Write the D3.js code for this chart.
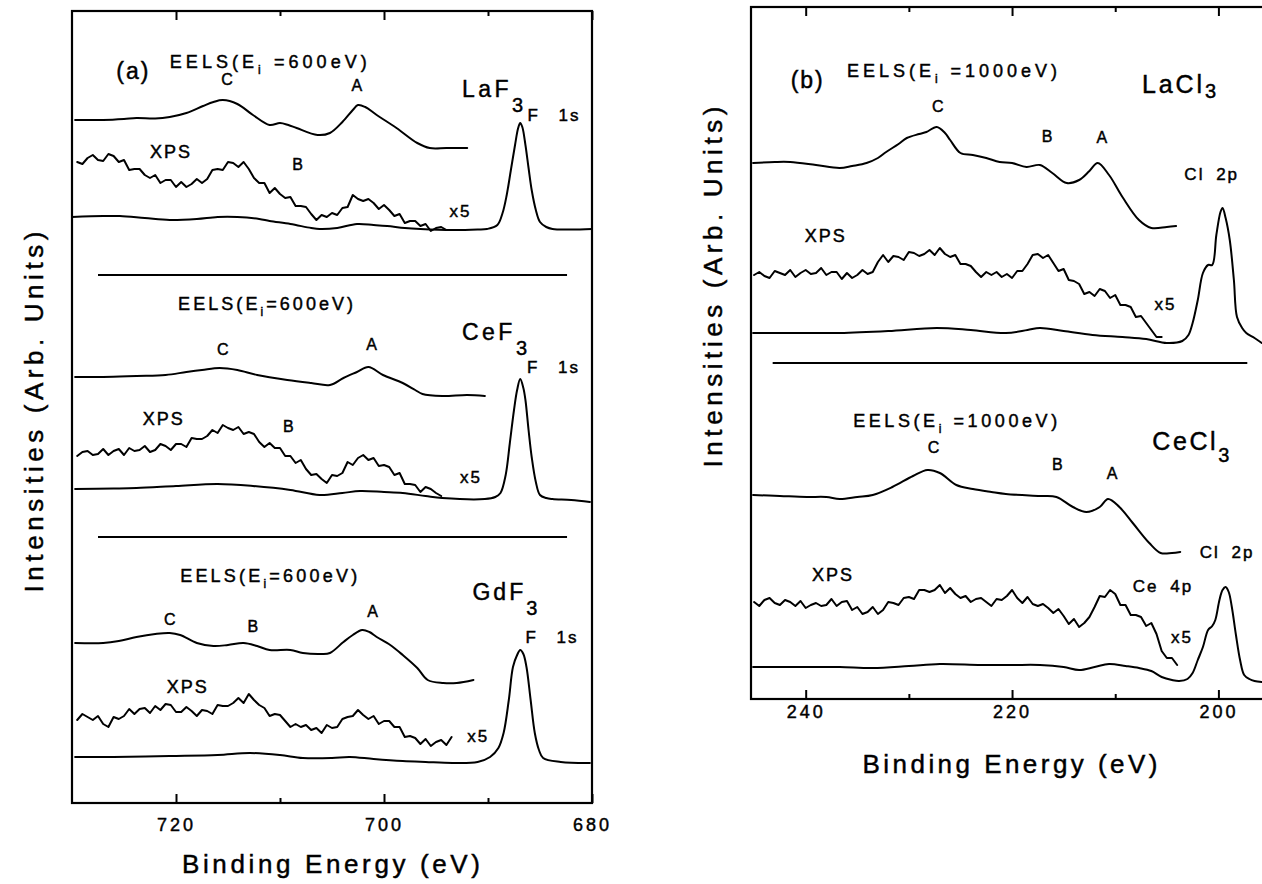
<!DOCTYPE html>
<html>
<head>
<meta charset="utf-8">
<script src="https://cdn.jsdelivr.net/npm/d3@7"></script>
<style>
  html, body { margin: 0; padding: 0; background: #fff; }
  svg { display: block; font-family: "Liberation Sans", Arial, Helvetica, sans-serif; }
  text { white-space: pre; fill: #000; stroke: #000; stroke-width: 0.45px; }
</style>
</head>
<body>
<svg id="chart" width="1262" height="884"></svg>
<script>
// ---------------- axis ticks ----------------
const ticksA = [720, 700, 680];
const minorTicksA = [710, 690];
const ticksB = [240, 220, 200];
const minorTicksB = [230, 210];

// ---------------- (a) fluorides: [binding energy (eV), intensity (arb.)] ----------------
const laf3Eels = [[729.7,68.3],[727,68.3],[725,68.4],[723.8,68.5],[722,68.45],[720.6,68.6],[719,69.0],[717.4,69.7],[716.4,70.1],[715.5,70.3],[714.1,69.9],[712.6,68.8],[711,67.8],[710,68.0],[709.2,67.8],[708.4,67.5],[706.4,66.8],[705.2,67.0],[704,68.1],[703,69.3],[702.5,69.8],[701.8,69.6],[700.7,68.8],[698.8,67.5],[696.8,66.0],[695.6,65.5],[694,65.5],[692,65.5]];
const laf3XpsStart = 729.5;
const laf3Xps = [64.1,63.9,64.5,64.8,64.3,64.2,64.9,64.7,64.1,64.3,63.3,63.4,63.4,62.8,62.5,62.8,62.0,62.3,62.3,61.6,62.1,61.6,61.9,62.4,62.0,62.4,63.3,63.4,63.3,64.1,64.0,63.6,64.1,63.4,62.5,62.0,62.0,61.0,61.5,60.9,60.5,60.6,59.7,59.7,59.6,58.9,58.3,58.8,58.6,59.0,58.8,59.5,59.6,60.8,60.4,60.2,60.4,60.0,59.4,59.8,59.3,58.7,58.9,58.0,58.2,58.2,57.7,57.9,57.2,57.5,57.6,57.3];
const laf3Core = [[730,58.6],[727,58.7],[725.4,58.7],[723,58.5],[720.6,58.3],[718,58.4],[716,58.6],[714.1,58.6],[712,58.4],[711,58.2],[709,57.9],[707,57.5],[706.2,57.4],[704.5,57.5],[702.6,57.9],[701,57.8],[699.7,57.7],[698,57.5],[696.5,57.4],[693.4,57.3],[691,57.35],[690.1,57.4],[689.1,57.8],[688.6,59.0],[688.2,60.8],[687.8,63.3],[687.4,65.8],[687.1,67.5],[686.9,68.0],[686.7,67.6],[686.4,65.8],[686.1,63.5],[685.8,61.3],[685.4,59.3],[685,58.1],[684.4,57.6],[683.8,57.4],[682,57.35],[680,57.4]];

const cef3Eels = [[729.7,42.6],[727,42.6],[723.8,42.7],[721,42.8],[719,43.1],[717.5,43.3],[715.8,43.5],[714.1,43.3],[712.2,42.8],[709.3,42.3],[707,42.0],[705.2,41.8],[703.9,42.5],[702.6,43.1],[701.5,43.6],[700.1,42.8],[698.2,42.0],[697,41.3],[696.3,40.9],[694.4,40.7],[692,40.8],[690.3,40.7]];
const cef3XpsStart = 729.5;
const cef3Xps = [34.7,35.1,35.2,34.8,34.9,35.4,34.8,35.2,35.4,34.8,35.5,35.2,35.3,35.7,35.1,35.3,35.9,35.7,35.3,35.9,35.9,35.6,36.5,36.4,36.4,36.7,37.3,37.0,37.8,37.5,37.3,37.6,36.9,37.1,36.9,36.1,35.6,36.0,35.5,35.5,34.7,34.7,34.0,34.3,33.4,32.8,32.9,32.4,32.0,32.8,32.7,33.0,34.1,33.8,34.5,34.8,34.3,34.5,33.7,33.8,33.6,32.8,33.0,31.9,31.9,31.8,31.1,31.6,31.4,31.0,30.7];
const cef3Core = [[729.7,31.4],[726,31.45],[723.8,31.5],[720,31.7],[716,31.9],[712.6,31.7],[709,31.3],[706.2,30.8],[704,31.0],[702.3,31.2],[700,31.1],[698.2,31.0],[696,30.7],[694.4,30.5],[690.3,30.4],[689.3,30.6],[688.8,31.0],[688.3,32.8],[687.9,36.0],[687.5,39.3],[687.2,41.3],[686.9,42.4],[686.6,41.5],[686.4,40.3],[686.1,37.3],[685.8,34.6],[685.4,32.1],[685,30.8],[684.4,30.5],[683.8,30.4],[682,30.3],[680.2,30.1]];

const gdf3Eels = [[729.7,16.0],[727,16.0],[725.5,16.2],[723.8,16.6],[722,16.9],[720.6,17.0],[719.6,16.8],[718,16.0],[716.4,15.7],[715,15.8],[713.5,16.0],[712.2,15.7],[711,15.3],[709,15.3],[707.8,15.0],[706,14.9],[705.2,15.0],[703.9,16.1],[703,16.8],[702.1,17.3],[701.4,17.1],[700.7,16.6],[699.4,15.8],[698.2,14.8],[696.8,13.5],[695.8,12.3],[694.3,12.0],[693,12.0],[691.4,12.3]];
const gdf3XpsStart = 729.5;
const gdf3Xps = [8.3,8.9,8.6,8.3,8.7,7.9,7.6,8.6,8.4,8.7,9.4,8.9,9.4,9.5,9.0,9.7,9.3,9.9,9.8,9.1,9.1,9.6,9.2,8.7,9.3,9.2,8.9,9.8,9.7,9.7,10.0,10.5,10.0,10.9,10.3,9.8,9.5,8.7,8.9,8.8,8.2,7.6,7.9,7.6,7.8,7.3,7.5,7.0,7.8,7.5,7.6,8.4,8.6,8.7,9.3,8.8,8.4,8.7,7.9,8.2,8.2,7.6,7.6,6.6,6.7,6.5,5.9,6.4,5.7,6.1,6.3,5.8,6.6];
const gdf3Core = [[729.7,4.6],[726,4.6],[720.6,4.7],[716,4.8],[712.9,5.0],[710,4.8],[707.8,4.5],[705,4.5],[703.3,4.6],[701,4.4],[698.2,4.2],[696,4.1],[693.4,4.0],[691,4.1],[689.8,4.6],[689,5.5],[688.5,7.0],[688,10.3],[687.6,13.6],[687.2,14.8],[686.9,15.3],[686.6,14.9],[686.3,13.6],[685.9,10.3],[685.5,7.0],[685.1,5.3],[684.7,4.5],[683,4.1],[680.2,4.0]];

// ---------------- (b) chlorides ----------------
const lacl3Eels = [[245.1,53.6],[243,53.7],[241.5,53.7],[239,53.4],[236.7,53.1],[235.5,53.3],[234.1,53.6],[233,54.1],[232.2,54.7],[231,55.5],[230.2,56.1],[229,56.5],[228.3,56.7],[227.3,57.2],[226.5,56.6],[226,55.9],[225,54.6],[223.8,54.4],[222.5,54.1],[221.2,53.7],[220,53.6],[218.6,53.2],[217.3,53.4],[216.1,52.6],[214.7,51.6],[213.5,51.9],[212.5,52.8],[211.7,53.6],[210.6,52.4],[209.3,50.2],[207.7,47.9],[206.5,47.1],[205,47.2],[204.1,47.3]];
const lacl3XpsStart = 245.0;
const lacl3Xps = [42.4,42.7,42.3,42.1,42.8,42.6,42.4,42.9,42.2,42.6,42.9,42.5,42.6,43.1,42.4,42.7,42.7,42.0,42.6,42.1,42.4,42.9,42.5,42.7,43.7,44.4,43.7,44.3,44.2,43.9,44.7,44.6,44.3,44.5,44.9,44.4,45.1,44.5,44.2,44.4,43.5,43.5,43.3,42.7,42.2,42.7,42.4,42.7,42.2,42.5,42.1,42.8,42.8,43.5,44.4,44.5,44.1,44.4,43.6,42.8,43.0,41.9,41.8,41.5,40.5,40.7,40.3,41.0,40.8,40.1,40.4,39.4,39.4,39.2,38.2,38.3,37.6,36.9,36.2,36.2];
const lacl3Core = [[245.1,36.6],[241,36.6],[236.7,36.6],[232,36.8],[227.3,37.1],[224,36.9],[220.6,36.6],[218.5,36.9],[217.3,37.1],[215,36.8],[212.2,36.4],[209.3,36.2],[207,36.0],[205,35.6],[203.5,35.8],[202.9,36.4],[202.5,37.6],[202,39.9],[201.5,42.6],[201,43.4],[200.6,43.4],[200.2,46.4],[199.8,48.7],[199.6,49.1],[199.3,48.1],[198.9,45.9],[198.5,41.9],[198.2,38.2],[197.7,37.1],[197.3,36.6],[196.5,36.1],[195.8,35.6]];

const cecl3Eels = [[245.1,20.4],[242.5,20.3],[239.9,20.2],[238,20.2],[236.7,20.0],[235,20.2],[233.5,20.4],[231.6,21.2],[229.6,22.3],[228.2,22.9],[227,22.6],[225.4,21.4],[223.8,21.0],[222,20.7],[220.6,20.5],[217.3,20.3],[215.7,20.2],[214.1,19.2],[212.8,18.7],[211.5,19.2],[210.7,20.0],[209.6,19.2],[208.3,17.6],[206.7,15.6],[205.6,14.6],[204.5,14.6],[203.7,14.7]];
const cecl3XpsStart = 245.0;
const cecl3Xps = [9.7,9.3,9.9,10.1,9.6,9.4,9.9,9.7,9.3,9.8,9.1,9.4,9.6,9.3,9.4,10.0,9.3,9.7,9.8,8.9,9.2,8.5,8.7,9.2,8.5,8.9,9.7,9.6,9.4,10.1,10.2,10.0,10.9,10.9,10.7,10.9,11.4,10.6,11.1,10.5,10.1,10.3,9.7,10.0,10.1,9.7,9.3,10.0,9.9,10.3,10.9,10.1,9.6,10.2,9.5,9.3,9.5,9.1,8.6,9.0,8.3,7.5,8.0,7.2,7.6,8.2,9.2,10.3,10.2,10.9,10.5,9.4,9.4,8.4,8.4,8.2,7.3,7.6,6.5,4.8,4.1,4.1,3.4];
const cecl3Core = [[245.1,3.2],[240,3.2],[236.7,3.2],[233.5,3.1],[230,3.3],[227,3.5],[223,3.4],[220,3.4],[217.3,3.4],[215,3.2],[213.5,2.9],[212,3.2],[210.6,3.5],[209,3.3],[207.7,3.1],[206.5,2.8],[205.5,2.2],[204.5,1.9],[203.8,1.8],[203,2.0],[202.5,2.6],[202,3.9],[201.5,5.2],[201,6.9],[200.6,7.3],[200.3,7.9],[199.9,9.9],[199.6,10.9],[199.3,11.2],[199,10.7],[198.7,9.2],[198.3,6.4],[197.9,3.9],[197.5,2.4],[197,2.0],[196.5,1.8],[195.8,1.7]];

// ---------------- drawing ----------------
const XPS_STEP = 0.5;
const gridded = (start, vals) => vals.map((v, i) => [start - i * XPS_STEP, v]);

const svg = d3.select("#chart");

const xA = d3.scaleLinear().domain([730, 680]).range([72, 592]);
const yA = d3.scaleLinear().domain([0, 79.2]).range([803, 11]);
const xB = d3.scaleLinear().domain([245.3, 195]).range([751, 1270]);
const yB = d3.scaleLinear().domain([0, 69.2]).range([699, 7]);

function txt(x, y, parts, o) {
  const t = svg.append("text").attr("x", x).attr("y", y)
    .attr("font-size", o.size).attr("text-anchor", o.anchor || "start");
  if (o.len) t.attr("textLength", o.len).attr("lengthAdjust", "spacing");
  if (o.ls != null) t.attr("letter-spacing", o.ls);
  if (o.ws != null) t.attr("word-spacing", o.ws);
  if (o.rotate) t.attr("transform", `rotate(${o.rotate},${x},${y})`);
  let cur = 0;
  parts.forEach(p => {
    const [s, shift, sz] = Array.isArray(p) ? p : [p, 0];
    const ts = t.append("tspan").attr("dy", shift - cur).text(s);
    if (sz) ts.attr("font-size", sz);
    cur = shift;
  });
  return t;
}

function frame(x, y, major, minor, pad) {
  const [x0, x1] = x.range();
  const [yb, yt] = y.range();
  svg.append("rect").attr("x", x0).attr("y", yt).attr("width", x1 - x0).attr("height", yb - yt)
    .attr("fill", "none").attr("stroke", "#000").attr("stroke-width", 2.2);

  const style = g => {
    g.select(".domain").remove();
    g.selectAll("line").attr("stroke", "#000").attr("stroke-width", 2);
    g.selectAll("text").attr("font-size", 18).attr("letter-spacing", 3)
      .attr("font-family", '"Liberation Sans", Arial, sans-serif').attr("fill", "#000");
  };
  svg.append("g").attr("transform", `translate(0,${yb})`)
    .call(d3.axisBottom(x).tickValues(major).tickSizeInner(-9).tickSizeOuter(0)
      .tickPadding(pad).tickFormat(d3.format("d"))).call(style);
  svg.append("g").attr("transform", `translate(0,${yb})`)
    .call(d3.axisBottom(x).tickValues(minor).tickSizeInner(-5).tickSizeOuter(0).tickFormat("")).call(style);
  svg.append("g").attr("transform", `translate(0,${yt})`)
    .call(d3.axisTop(x).tickValues(major).tickSizeInner(-9).tickSizeOuter(0).tickFormat("")).call(style);
  svg.append("g").attr("transform", `translate(0,${yt})`)
    .call(d3.axisTop(x).tickValues(minor).tickSizeInner(-5).tickSizeOuter(0).tickFormat("")).call(style);
}

function trace(x, y, pts, curve) {
  const line = d3.line().x(d => x(d[0])).y(d => y(d[1])).curve(curve);
  svg.append("path").datum(pts).attr("d", line)
    .attr("fill", "none").attr("stroke", "#000").attr("stroke-width", 2)
    .attr("stroke-linejoin", "round").attr("stroke-linecap", "round");
}
const smooth = d3.curveCatmullRom.alpha(0.5);
const rough = d3.curveLinear;

function rule(x, y, e0, e1, v) {
  svg.append("line").attr("x1", x(e0)).attr("x2", x(e1)).attr("y1", y(v)).attr("y2", y(v))
    .attr("stroke", "#000").attr("stroke-width", 2);
}

// ---- panel (a) ----
frame(xA, yA, ticksA, minorTicksA, 15);
[laf3Eels, laf3Core, cef3Eels, cef3Core, gdf3Eels, gdf3Core].forEach(d => trace(xA, yA, d, smooth));
[gridded(laf3XpsStart, laf3Xps), gridded(cef3XpsStart, cef3Xps), gridded(gdf3XpsStart, gdf3Xps)]
  .forEach(d => trace(xA, yA, d, rough));
rule(xA, yA, 727.5, 682.4, 52.8);
rule(xA, yA, 727.5, 682.4, 26.6);

// LaF3 block
txt(xA(724.1), yA(72.4), ["(a)"], {size: 23, anchor: "middle", ls: 2});
txt(xA(720.6), yA(73.5), ["EELS(E", ["i", 6, 12], [" =600eV)", 0]], {size: 18, len: 197});
txt(xA(715.1), yA(71.8), ["C"], {size: 16, anchor: "middle"});
txt(xA(702.6), yA(71.2), ["A"], {size: 16, anchor: "middle"});
txt(xA(692.5), yA(70.6), ["LaF", ["3", 15, 20]], {size: 23, len: 61});
txt(xA(686.2), yA(68.2), ["F 1s"], {size: 17, ls: 2, ws: 12});
txt(xA(722.5), yA(64.5), ["XPS"], {size: 18, ls: 2});
txt(xA(708.3), yA(63.3), ["B"], {size: 16, anchor: "middle"});
txt(xA(693.7), yA(58.6), ["x5"], {size: 17, ls: 2});

// CeF3 block
txt(xA(719.8), yA(49.3), ["EELS(E", ["i", 6, 12], ["=600eV)", 0]], {size: 18, len: 175});
txt(xA(692.5), yA(46.3), ["CeF", ["3", 15, 20]], {size: 23, len: 65});
txt(xA(715.5), yA(44.8), ["C"], {size: 16, anchor: "middle"});
txt(xA(701.2), yA(45.3), ["A"], {size: 16, anchor: "middle"});
txt(xA(686.25), yA(43.0), ["F 1s"], {size: 17, ls: 2, ws: 12});
txt(xA(723.2), yA(37.8), ["XPS"], {size: 18, ls: 2});
txt(xA(709.2), yA(37.1), ["B"], {size: 16, anchor: "middle"});
txt(xA(692.7), yA(32.0), ["x5"], {size: 17, ls: 2});

// GdF3 block
txt(xA(719.6), yA(22.1), ["EELS(E", ["i", 6, 12], ["=600eV)", 0]], {size: 18, len: 177});
txt(xA(691.5), yA(20.3), ["GdF", ["3", 15, 20]], {size: 23, len: 65});
txt(xA(720.6), yA(17.8), ["C"], {size: 16, anchor: "middle"});
txt(xA(712.6), yA(17.1), ["B"], {size: 16, anchor: "middle"});
txt(xA(701.1), yA(18.6), ["A"], {size: 16, anchor: "middle"});
txt(xA(686.4), yA(16.0), ["F 1s"], {size: 17, ls: 2, ws: 12});
txt(xA(720.9), yA(11.0), ["XPS"], {size: 18, ls: 2});
txt(xA(692.0), yA(6.1), ["x5"], {size: 17, ls: 2});

// axis titles (a)
txt(331, 873, ["Binding Energy (eV)"], {size: 26, anchor: "middle", len: 298});
txt(43, 412, ["Intensities (Arb. Units)"], {size: 26, anchor: "middle", len: 361, rotate: -90});

// ---- panel (b) ----
frame(xB, yB, ticksB, minorTicksB, 6);
[lacl3Eels, lacl3Core, cecl3Eels, cecl3Core].forEach(d => trace(xB, yB, d, smooth));
[gridded(lacl3XpsStart, lacl3Xps), gridded(cecl3XpsStart, cecl3Xps)].forEach(d => trace(xB, yB, d, rough));
rule(xB, yB, 243.2, 197.2, 33.6);

// LaCl3 block
txt(xB(239.8), yB(61.1), ["(b)"], {size: 23, anchor: "middle", ls: 2});
txt(xB(236.0), yB(62.2), ["EELS(E", ["i", 6, 12], [" =1000eV)", 0]], {size: 18, len: 210});
txt(xB(207.4), yB(60.6), ["LaCl", ["3", 5, 20]], {size: 25, len: 74});
txt(xB(227.2), yB(58.7), ["C"], {size: 16, anchor: "middle"});
txt(xB(216.6), yB(55.7), ["B"], {size: 16, anchor: "middle"});
txt(xB(211.3), yB(55.6), ["A"], {size: 16, anchor: "middle"});
txt(xB(203.3), yB(51.9), ["Cl 2p"], {size: 17, ls: 2, ws: 5});
txt(xB(240.1), yB(45.7), ["XPS"], {size: 18, ls: 2});
txt(xB(206.2), yB(38.9), ["x5"], {size: 17, ls: 2});

// CeCl3 block
txt(xB(235.4), yB(27.2), ["EELS(E", ["i", 6, 12], [" =1000eV)", 0]], {size: 18, len: 204});
txt(xB(227.6), yB(24.6), ["C"], {size: 16, anchor: "middle"});
txt(xB(206.4), yB(24.9), ["CeCl", ["3", 12, 20]], {size: 25, len: 77});
txt(xB(215.6), yB(22.9), ["B"], {size: 16, anchor: "middle"});
txt(xB(210.3), yB(22.0), ["A"], {size: 16, anchor: "middle"});
txt(xB(201.8), yB(14.1), ["Cl 2p"], {size: 17, ls: 2, ws: 5});
txt(xB(239.4), yB(11.8), ["XPS"], {size: 18, ls: 2});
txt(xB(208.3), yB(10.7), ["Ce 4p"], {size: 17, ls: 2, ws: 5});
txt(xB(204.6), yB(5.6), ["x5"], {size: 17, ls: 2});

// axis titles (b)
txt(1010, 773, ["Binding Energy (eV)"], {size: 26, anchor: "middle", len: 295});
txt(722, 287, ["Intensities (Arb. Units)"], {size: 26, anchor: "middle", len: 361, rotate: -90});
</script>
</body>
</html>
